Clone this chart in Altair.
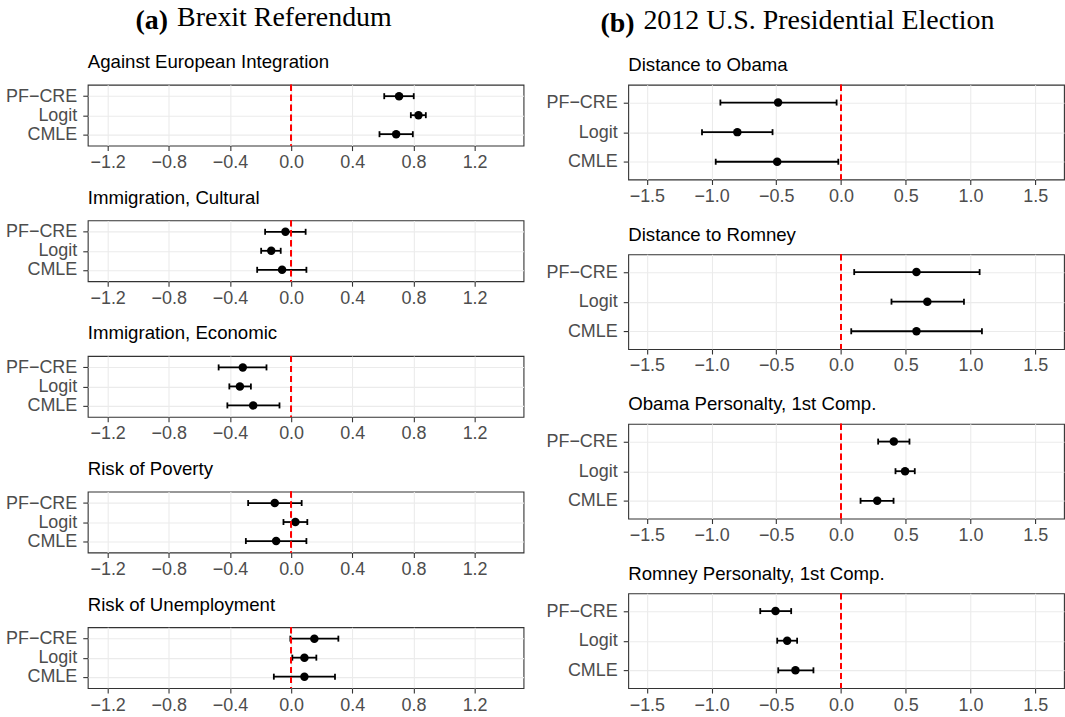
import json
import altair as alt
import pandas as pd

MODELS = ["PF\u2212CRE", "Logit", "CMLE"]

BREXIT_TITLES = ["Against European Integration", "Immigration, Cultural",
                 "Immigration, Economic", "Risk of Poverty", "Risk of Unemployment"]
BREXIT_EST = [[0.706, 0.833, 0.687], [-0.037, -0.130, -0.059], [-0.316, -0.335, -0.248],
              [-0.107, 0.028, -0.098], [0.152, 0.087, 0.087]]
BREXIT_LO = [[0.609, 0.783, 0.578], [-0.170, -0.196, -0.222], [-0.474, -0.404, -0.417],
             [-0.281, -0.050, -0.296], [-0.005, 0.008, -0.113]]
BREXIT_HI = [[0.802, 0.881, 0.796], [0.095, -0.068, 0.100], [-0.161, -0.263, -0.076],
             [0.069, 0.106, 0.100], [0.309, 0.165, 0.287]]

US_TITLES = ["Distance to Obama", "Distance to Romney",
             "Obama Personalty, 1st Comp.", "Romney Personalty, 1st Comp."]
US_EST = [[-0.486, -0.801, -0.493], [0.583, 0.667, 0.583], [0.408, 0.495, 0.280],
          [-0.506, -0.416, -0.352]]
US_LO = [[-0.932, -1.074, -0.968], [0.102, 0.390, 0.079], [0.287, 0.421, 0.151],
         [-0.624, -0.493, -0.485]]
US_HI = [[-0.034, -0.529, -0.021], [1.071, 0.950, 1.089], [0.529, 0.570, 0.406],
         [-0.385, -0.339, -0.213]]

BREXIT_MAJOR = [-1.2, -0.8, -0.4, 0.0, 0.4, 0.8, 1.2]
BREXIT_MINOR = [-1.0, -0.6, -0.2, 0.2, 0.6, 1.0, 1.4]
BREXIT_DOMAIN = [-1.33, 1.52]
US_MAJOR = [-1.5, -1.0, -0.5, 0.0, 0.5, 1.0, 1.5]
US_MINOR = [-1.25, -0.75, -0.25, 0.25, 0.75, 1.25]
US_DOMAIN = [-1.644, 1.723]

SANS = "Liberation Sans"
SERIF = "Liberation Serif"
GRID = "#EBEBEB"
DARK = "#333333"


def make_panel(title, est, lo, hi, domain, major, minor, width, height, title_offset):
    df = pd.DataFrame({"model": MODELS, "est": est, "lo": lo, "hi": hi})
    mtest = "indexof(%s, datum.value) >= 0" % json.dumps(minor)
    xscale = alt.Scale(domain=domain, nice=False, zero=False)
    xaxis = alt.Axis(
        values=sorted(major + minor), title=None, domain=False, grid=True,
        gridColor=GRID,
        gridWidth={"condition": {"test": mtest, "value": 0.55}, "value": 1.1},
        ticks=True, tickSize=5, tickColor=DARK, tickWidth=1.1,
        tickOpacity={"condition": {"test": mtest, "value": 0}, "value": 1},
        labelExpr="%s ? '' : format(datum.value, '.1f')" % mtest,
        labelFont=SANS, labelFontSize=18, labelColor="#4D4D4D", labelPadding=3,
        labelFlush=False,
    )
    yscale = alt.Scale(type="point", domain=MODELS, padding=0.6)
    yaxis = alt.Axis(
        title=None, domain=False, grid=True, gridColor=GRID, gridWidth=1.1,
        ticks=True, tickSize=5, tickColor=DARK, tickWidth=1.1,
        labelFont=SANS, labelFontSize=18, labelColor="#4D4D4D", labelPadding=6,
    )
    Y = alt.Y("model:N", scale=yscale, axis=yaxis, sort=MODELS)

    def X(f):
        return alt.X(f"{f}:Q", scale=xscale, axis=xaxis)

    base = alt.Chart(df)
    bars = base.mark_rule(color="black", strokeWidth=1.8).encode(x=X("lo"), x2="hi:Q", y=Y)
    cap_lo = base.mark_tick(color="black", thickness=1.8, size=6, opacity=1).encode(x=X("lo"), y=Y)
    cap_hi = base.mark_tick(color="black", thickness=1.8, size=6, opacity=1).encode(x=X("hi"), y=Y)
    pts = base.mark_circle(color="black", size=72, opacity=1).encode(x=X("est"), y=Y)
    zero = base.mark_rule(color="#FF0000", strokeDash=[6, 4], strokeWidth=1.8).encode(x=alt.datum(0))
    return alt.layer(bars, cap_lo, cap_hi, pts, zero).properties(
        width=width, height=height,
        title=alt.TitleParams(text=title, anchor="start", frame="group", font=SANS,
                              fontSize=18.7, fontWeight="normal", color="black",
                              offset=title_offset),
    )


left_panels = [
    make_panel(BREXIT_TITLES[i], BREXIT_EST[i], BREXIT_LO[i], BREXIT_HI[i],
               BREXIT_DOMAIN, BREXIT_MAJOR, BREXIT_MINOR, 437, 61, 12)
    for i in range(len(BREXIT_TITLES))
]
right_panels = [
    make_panel(US_TITLES[i], US_EST[i], US_LO[i], US_HI[i],
               US_DOMAIN, US_MAJOR, US_MINOR, 437, 95, 9)
    for i in range(len(US_TITLES))
]

left_inner = alt.vconcat(*left_panels, spacing=15).properties(
    title=alt.TitleParams("Brexit Referendum", font=SERIF, fontSize=28, fontWeight="normal",
                          anchor="middle", dx=20, offset=21, color="black"))
left = alt.vconcat(left_inner).properties(
    title=alt.TitleParams("(a)", font=SERIF, fontSize=28, fontWeight="bold",
                          anchor="middle", dx=-113, offset=-31, color="black"))

right_inner = alt.vconcat(*right_panels, spacing=18).properties(
    title=alt.TitleParams("2012 U.S. Presidential Election", font=SERIF, fontSize=28,
                          fontWeight="normal", anchor="middle", dx=14, offset=21, color="black"))
right = alt.vconcat(right_inner).properties(
    title=alt.TitleParams("(b)", font=SERIF, fontSize=28, fontWeight="bold",
                          anchor="middle", dx=-188, offset=-31, color="black"))

chart = alt.hconcat(left, right, spacing=20).properties(
    padding={"left": 4, "top": 2, "right": 0, "bottom": 0},
    background="white",
).configure_view(stroke=DARK, strokeWidth=1.1)

chart.save("out.html", embed_options={"renderer": "svg", "actions": False})
